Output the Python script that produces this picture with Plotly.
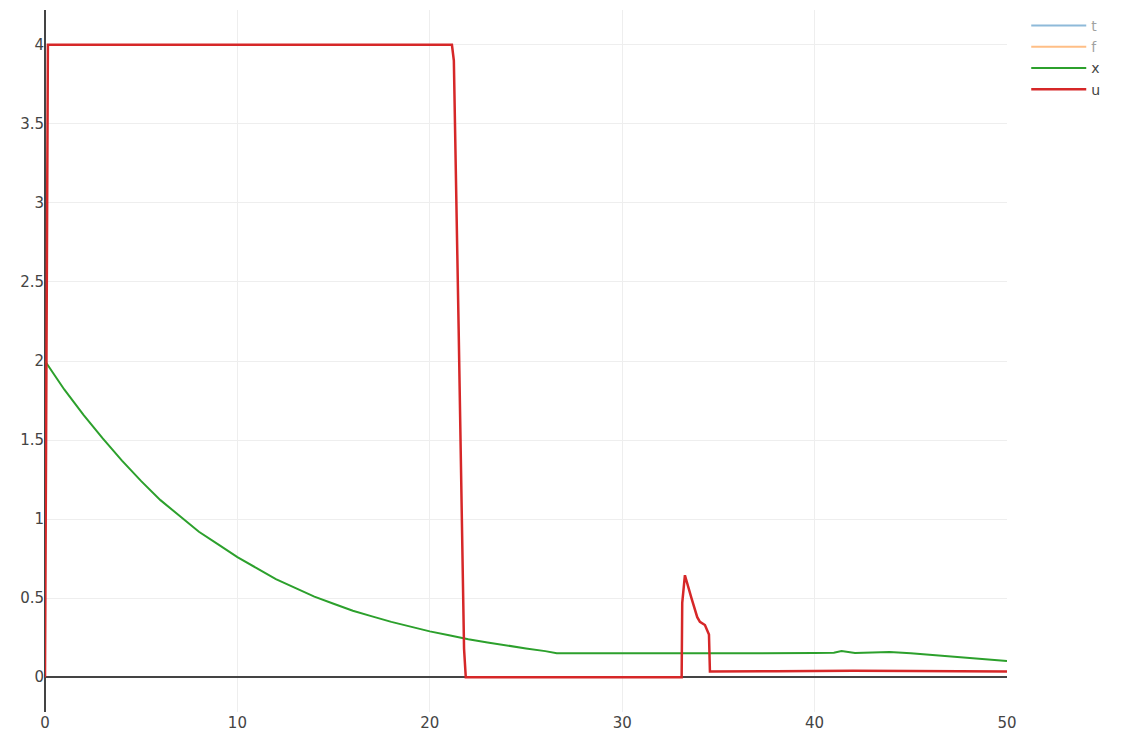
import plotly.graph_objects as go

# state x over time
x_time = [0, 1, 2, 3, 4, 5, 6, 7, 8, 9, 10, 11, 12, 13, 14, 15, 16, 17, 18, 19,
          20, 21, 22, 23, 24, 25, 26, 26.6, 28, 30, 32, 34, 36, 38, 40, 41, 41.4,
          42.1, 43, 43.9, 45, 46, 47, 48, 49, 50]
x_vals = [2.0, 1.82, 1.66, 1.51, 1.37, 1.24, 1.12, 1.02, 0.92, 0.84, 0.76, 0.69,
          0.62, 0.565, 0.51, 0.465, 0.42, 0.385, 0.35, 0.32, 0.29, 0.265, 0.24,
          0.22, 0.20, 0.182, 0.165, 0.152, 0.151, 0.150, 0.151, 0.152, 0.152,
          0.151, 0.153, 0.155, 0.165, 0.153, 0.157, 0.16, 0.152, 0.143, 0.133,
          0.123, 0.113, 0.103]

# control input u over time
u_time = [0, 0.15, 21.15, 21.25, 21.5, 21.62, 21.72, 21.78, 21.87, 33.09, 33.12,
          33.26, 33.6, 33.9, 34.04, 34.3, 34.51, 34.56, 38, 40, 42, 45, 50]
u_vals = [0, 4.0, 4.0, 3.9, 2.2, 1.4, 0.7, 0.18, 0.0, 0.0, 0.47, 0.645, 0.5,
          0.38, 0.35, 0.33, 0.27, 0.036, 0.038, 0.041, 0.041, 0.039, 0.036]

# time vector and f (hidden by default)
t_time = [0, 50]
t_vals = [0, 50]
f_time = [0, 50]
f_vals = [0, 0]

fig = go.Figure()
fig.add_trace(go.Scatter(x=t_time, y=t_vals, name="t", mode="lines",
                         line=dict(color="#1f77b4", width=2), visible="legendonly"))
fig.add_trace(go.Scatter(x=f_time, y=f_vals, name="f", mode="lines",
                         line=dict(color="#ff7f0e", width=2), visible="legendonly"))
fig.add_trace(go.Scatter(x=x_time, y=x_vals, name="x", mode="lines",
                         line=dict(color="#2ca02c", width=2)))
fig.add_trace(go.Scatter(x=u_time, y=u_vals, name="u", mode="lines",
                         line=dict(color="#d62728", width=2.5)))

font = dict(family="DejaVu Sans, sans-serif", size=15, color="#444444")

axis_common = dict(
    showgrid=True, gridcolor="#eeeeee", gridwidth=1,
    zeroline=True, zerolinecolor="#444444", zerolinewidth=1.5,
    showline=False, ticks="",
    tickfont=font,
)

fig.update_layout(
    width=1122, height=734,
    template="none",
    paper_bgcolor="white", plot_bgcolor="white",
    margin=dict(l=45, r=115, t=10, b=22),
    xaxis=dict(range=[0, 50], dtick=10, **axis_common),
    yaxis=dict(range=[-0.22, 4.22], dtick=0.5, **axis_common),
    legend=dict(font=dict(family="DejaVu Sans, sans-serif", size=14, color="#444444"),
                x=1.02, y=1, xanchor="left", yanchor="top", itemwidth=55,
                bgcolor="rgba(0,0,0,0)", tracegroupgap=0),
    showlegend=True,
)

fig.write_html("out.html")
